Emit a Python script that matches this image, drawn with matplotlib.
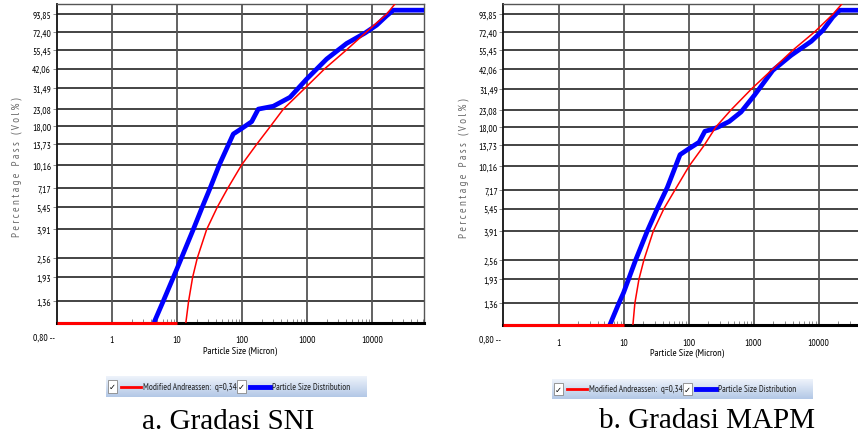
import numpy as np
import matplotlib.pyplot as plt
from matplotlib.patches import Rectangle
from matplotlib.lines import Line2D
from matplotlib.colors import LinearSegmentedColormap

# y ticks of the Andreassen chart (log spacing)
ytick_vals = [1.36, 1.93, 2.56, 3.91, 5.45, 7.17, 10.16, 13.73, 18.00, 23.08,
              31.49, 42.06, 55.45, 72.40, 93.85]
ytick_labels = ['1,36', '1,93', '2,56', '3,91', '5,45', '7,17', '10,16', '13,73',
                '18,00', '23,08', '31,49', '42,06', '55,45', '72,40', '93,85']
xtick_vals = [1, 10, 100, 1000, 10000]
xtick_labels = ['1', '10', '100', '1000', '10000']

# a. Gradasi SNI
sni_blue_x = [4.43, 6.16, 10, 17.8, 24.5, 32.2, 44.8, 73.5, 100, 141, 178, 303,
              547, 988, 2009, 4074, 7800, 11800, 16800, 21300, 63800]
sni_blue_y = [0, 1.36, 2.19, 3.91, 5.45, 7.17, 10.16, 16.0, 17.4, 19.2, 23.1, 24.1,
              27.5, 36.0, 48.4, 60.9, 71.0, 79.8, 91.6, 99.5, 99.5]
sni_red_x = [13.7, 15.1, 17.4, 20.5, 28.6, 41.8, 60.2, 99, 168, 276, 432, 931,
             1892, 4074, 8280, 16820, 25000]
sni_red_y = [0, 1.36, 1.93, 2.56, 3.91, 5.45, 7.17, 10.16, 13.73, 18.0, 23.08, 31.49,
             42.06, 55.45, 72.40, 93.85, 115]

# b. Gradasi MAPM
mapm_blue_x = [6.13, 8.45, 10, 15.3, 23.1, 33.0, 47.1, 73.9, 100, 145, 178, 220,
               279, 422, 640, 1027, 1972, 3785, 7710, 11670, 16640, 21100, 63800]
mapm_blue_y = [0, 1.36, 1.59, 2.56, 3.91, 5.45, 7.43, 12.0, 13.05, 14.4, 16.9, 17.3,
               17.9, 19.5, 22.4, 28.6, 41.2, 51.4, 63.1, 74.2, 90.3, 99.5, 99.5]
mapm_red_x = [13.9, 14.9, 17.2, 20.5, 28.6, 41.8, 61.9, 102, 173, 263, 448, 933,
              1972, 4018, 8670, 16640, 25500]
mapm_red_y = [0, 1.36, 1.93, 2.56, 3.91, 5.45, 7.17, 10.16, 13.73, 18.0, 23.08, 31.49,
              42.06, 55.45, 72.40, 93.85, 115]

red_base_x = [0.141, 10]

XMIN, XMAX = 0.141, 63800
YMIN, YMAX = 0.99, 109

narrow = ['PT Sans Narrow', 'DejaVu Sans']


def draw_panel(ax, bx, by, rx, ry):
    ax.set_xscale('log')
    ax.set_yscale('log')

    for v in ytick_vals:
        ax.axhline(v, color='#111111', lw=1.1, zorder=1)
    for v in xtick_vals:
        ax.axvline(v, color='#555555', lw=1.3, zorder=1)

    ax.set_yticks(ytick_vals)
    ax.set_yticklabels(ytick_labels, family=narrow, fontsize=6.8)
    ax.yaxis.set_minor_locator(plt.NullLocator())
    ax.set_xticks(xtick_vals)
    ax.set_xticklabels(xtick_labels, family=narrow, fontsize=6.8)
    ax.set_xticks([m * 10.0 ** e for e in range(0, 5) for m in range(2, 10)
                   if m * 10.0 ** e < XMAX], minor=True)
    ax.tick_params(axis='y', length=3, width=0.6, color='#777777', pad=1)
    ax.tick_params(axis='x', which='major', length=0, pad=9)
    ax.tick_params(axis='x', which='minor', direction='in', length=3, width=0.6,
                   color='#777777', labelbottom=False)
    ax.set_xlim(XMIN, XMAX)
    ax.set_ylim(YMIN, YMAX)

    for s in ['top', 'right']:
        ax.spines[s].set_color('#555555')
        ax.spines[s].set_linewidth(1.0)
    ax.spines['left'].set_color('#111111')
    ax.spines['left'].set_linewidth(1.3)
    ax.spines['bottom'].set_color('black')
    ax.spines['bottom'].set_linewidth(2.2)

    ax.plot(red_base_x, [YMIN, YMIN], color='red', lw=2.2, zorder=5, clip_on=False,
            solid_capstyle='butt')
    ax.plot(rx, np.clip(ry, YMIN, None), color='red', lw=1.1, zorder=4)
    ax.plot(bx, np.clip(by, YMIN, None), color='#0000ff', lw=3.4, zorder=3,
            solid_capstyle='butt')

    ax.text(XMIN * 0.93, 0.80, '0,80 --', ha='right', va='center', fontsize=6.8,
            family=narrow, clip_on=False)
    ax.set_xlabel('Particle Size (Micron)', family=narrow, fontsize=7.3, labelpad=1)


def draw_legend(fig, left, bottom, width, height):
    lax = fig.add_axes([left, bottom, width, height])
    grad = np.linspace(0, 1, 50).reshape(-1, 1)
    cmap = LinearSegmentedColormap.from_list('lg', ['#eef3fb', '#b3c8e6'])
    lax.imshow(grad, aspect='auto', cmap=cmap, extent=[0, 1, 0, 1], origin='upper')
    lax.set_xlim(0, 1)
    lax.set_ylim(0, 1)
    lax.axis('off')
    w = width * fig.get_size_inches()[0] * fig.dpi
    px = lambda p: p / w
    items = [(2, 'red', 2.0, 'Modified Andreassen:  q=0,34'),
             (131, '#0000ff', 3.5, 'Particle Size Distribution')]
    for x0, col, lw, txt in items:
        lax.add_patch(Rectangle((px(x0), 0.18), px(9), 0.64, facecolor='white',
                                edgecolor='#888888', lw=0.6))
        lax.text(px(x0 + 4.5), 0.5, '\u2713', ha='center', va='center', fontsize=6,
                 family='DejaVu Sans')
        lax.add_line(Line2D([px(x0 + 13), px(x0 + 33)], [0.5, 0.5], color=col, lw=lw))
        lax.text(px(x0 + 35), 0.5, txt, ha='left', va='center', fontsize=6.6,
                 family=narrow, color='#222222')


fig = plt.figure(figsize=(8.58, 4.35), dpi=100)
W, H = 858.0, 435.0

ax1 = fig.add_axes([56.7 / W, 1 - 323.5 / H, 367.6 / W, 318.5 / H])
draw_panel(ax1, sni_blue_x, sni_blue_y, sni_red_x, sni_red_y)
ax2 = fig.add_axes([503.3 / W, 1 - 326 / H, 367.6 / W, 321 / H])
draw_panel(ax2, mapm_blue_x, mapm_blue_y, mapm_red_x, mapm_red_y)

ylab = 'P e r c e n t a g e   P a s s   ( V o l % )'
fig.text(17 / W, 1 - 167 / H, ylab, rotation=90, ha='center', va='center',
         fontsize=8, color='#666666', family=narrow)
fig.text(464 / W, 1 - 168 / H, ylab, rotation=90, ha='center', va='center',
         fontsize=8, color='#666666', family=narrow)

draw_legend(fig, 106 / W, 1 - 398 / H, 261 / W, 21 / H)
draw_legend(fig, 552 / W, 1 - 400 / H, 261 / W, 20 / H)

fig.text(228 / W, 1 - 429 / H, 'a. Gradasi SNI', ha='center', va='baseline',
         fontsize=21, family='Liberation Serif')
fig.text(707 / W, 1 - 428 / H, 'b. Gradasi MAPM', ha='center', va='baseline',
         fontsize=21, family='Liberation Serif')

fig.savefig('out.png', dpi=100)
